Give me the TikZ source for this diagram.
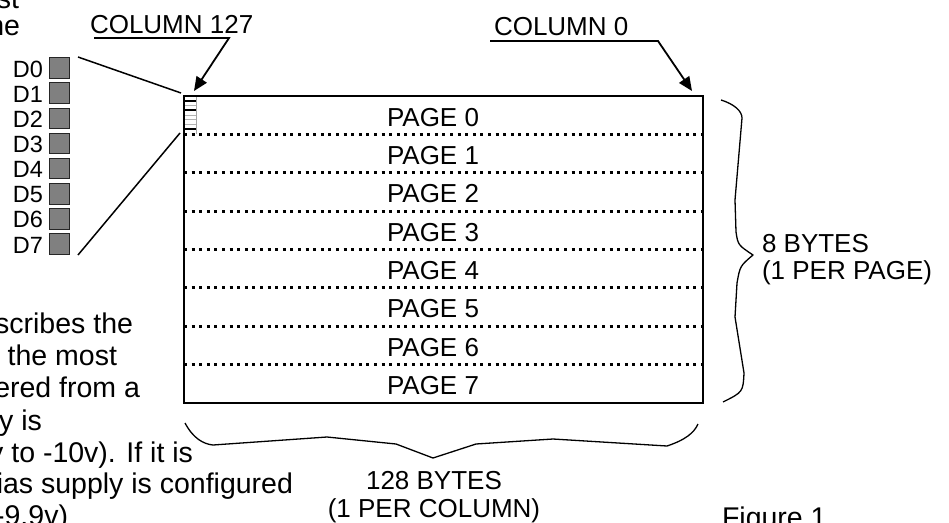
\documentclass[tikz,border=0pt]{standalone}
\usepackage{fontspec}
\setmainfont{Liberation Sans}
\usetikzlibrary{arrows.meta}
\begin{document}
\begin{tikzpicture}[x=1pt,y=-1pt,
  big/.style={font=\fontsize{26}{27}\selectfont, inner sep=0pt, outer sep=0pt},
  para/.style={font=\fontsize{28.5}{32}\selectfont, inner sep=0pt, outer sep=0pt, anchor=base east},
  dlab/.style={font=\fontsize{23.5}{24}\selectfont, inner sep=0pt, outer sep=0pt, anchor=base east},
  bitbox/.style={draw=black!85, line width=1pt, fill=black!50, minimum width=20pt, minimum height=20.5pt, inner sep=0pt, anchor=north west},
  pageline/.style={line width=3pt, dash pattern=on 3pt off 4.6pt},
  leader/.style={line width=1.8pt, -{Triangle[length=14pt,width=12pt]}},
  brace/.style={line width=1.3pt, line join=round},
  zoomline/.style={line width=1.5pt}]
\clip (0,0) rectangle (949,522);
\fill[white] (0,0) rectangle (949,522);

% ---- corner coordinates of the memory map
\coordinate (tl) at (184,96);
\coordinate (tr) at (703,96);
\coordinate (bl) at (184,403);
\coordinate (br) at (703,403);

% page separators
\foreach \k in {1,...,7} {
  \draw[pageline] (184,{96+38.375*\k}) -- (703,{96+38.375*\k});
}
% page labels
\foreach \k in {0,...,7} {
  \node[big, anchor=base] (page\k) at (433,{126+38.375*\k}) {PAGE \k};
}

% small column detail
\foreach \k in {2,4,5,6} {
  \draw[black!30, line width=0.6pt] (184,{96+4.75*\k}) -- (196,{96+4.75*\k});
}
\foreach \k in {1,3,7} {
  \draw[black, line width=2pt] (184,{96+4.75*\k}) -- (196,{96+4.75*\k});
}
\draw[black!35, line width=0.8pt] (196,96) -- (196,134);

% rectangle border
\draw[line width=1.5pt] (tl) -- (bl);
\draw[line width=1.5pt] (tr) -- (br);
\draw[line width=2.4pt] ([xshift=-0.75pt]tl) -- ([xshift=0.75pt]tr);
\draw[line width=2.4pt] ([xshift=-0.75pt]bl) -- ([xshift=0.75pt]br);

% bit labels and boxes
\foreach \k in {0,...,7} {
  \node[dlab] (d\k) at (43,{77+25.15*\k}) {D\k};
  \node[bitbox] (b\k) at (49,{57.3+25.15*\k}) {};
}
\coordinate (z0) at (78,57);
\coordinate (z7) at (78,255);
\draw[zoomline] (z0) -- ([xshift=-3pt,yshift=3pt]tl);
\draw[zoomline] (z7) -- (180,133);

% column labels
\node[big, anchor=base west] (c127) at (90,33) {COLUMN 127};
\coordinate (c127a) at (94,38);
\coordinate (c127b) at (229,38);
\coordinate (c127t) at (194,91);
\draw[leader] (c127a) -- (c127b) -- (c127t);

\node[big, anchor=base west] (c0) at (494,35) {COLUMN 0};
\coordinate (c0a) at (490,41);
\coordinate (c0b) at (658,41);
\coordinate (c0t) at (692,91);
\draw[leader] (c0a) -- (c0b) -- (c0t);

% right brace
\draw[brace] (721,100) .. controls (734,104) and (742,111) .. (742,118)
  -- (735,200) -- (736,232) .. controls (738,245) .. (753,255)
  .. controls (740,266) .. (737,283) -- (735,317) -- (744,373)
  .. controls (743,392) .. (723,402);
\node[big, anchor=base west] (rb) at (762,252) {8 BYTES};
\node[big, anchor=base west] (rb2) at (762,279) {(1 PER PAGE)};

% bottom brace
\draw[brace] (185,423) .. controls (193,438) and (203,444) .. (213,445)
  -- (327,437) -- (396,444) -- (433,458) -- (476,444) -- (553,439)
  -- (667,446) .. controls (685,440) and (694,433) .. (698,424);
\node[big, anchor=base] (bb) at (434,489) {128 BYTES};
\node[big, anchor=base] (bb2) at (434,517) {(1 PER COLUMN)};

% surrounding page text (cropped)
\node[para] at (19,9) {most};
\node[para] at (20,35) {the};
\node[para] at (133,333) {describes the};
\node[para] at (117,365) {the most};
\node[para] at (140,397) {powered from a};
\node[para] at (42,430) {supply is};
\node[para] at (193,462) {supply to -10v). If it is};
\node[para] at (293,493) {bias supply is configured};
\node[para] at (68,525) {-9.9v)};
\node[para, anchor=base west] at (722,527) {Figure 1};
\end{tikzpicture}
\end{document}
